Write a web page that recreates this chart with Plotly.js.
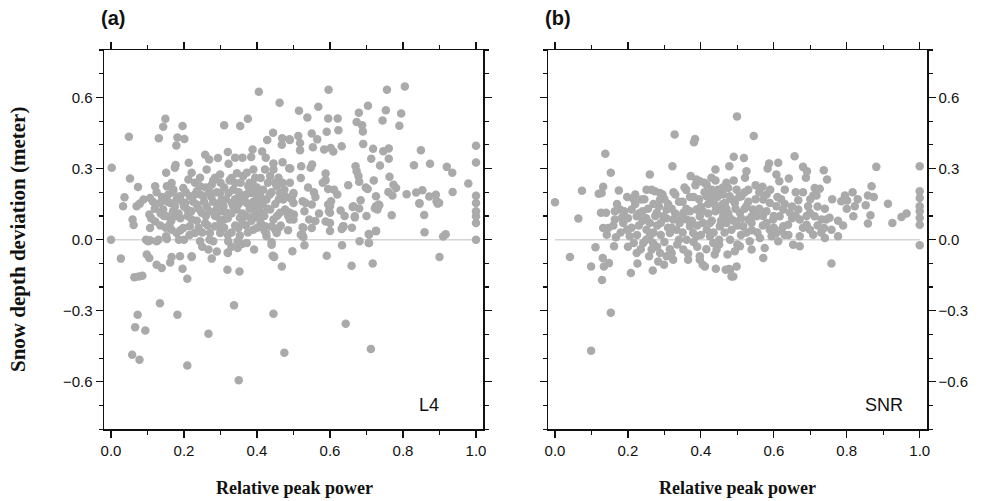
<!DOCTYPE html>
<html>
<head>
<meta charset="utf-8">
<script src="https://cdn.plot.ly/plotly-3.0.1.min.js"></script>
<style>html,body{margin:0;padding:0;background:#fff}#chart{width:987px;height:501px}</style>
</head>
<body>
<div id="chart"></div>
<script>
// Panel (a) L4: relative peak power vs snow depth deviation (m)
const l4X = [
0.405,0.462,0.149,0.143,0.196,0.049,0.131,0.182,0.201,0.179,0.31,0.354,0.375,0.444,0.428,0.469,0.489,0.468,0.002,0.052,
0.074,0.037,0.033,0.059,0.062,0.0,0.121,0.151,0.177,0.175,0.213,0.258,0.269,0.293,0.32,0.322,0.34,0.36,0.388,0.384,
0.414,0.424,0.445,0.47,0.488,
0.596,0.756,0.805,0.515,0.538,0.568,0.595,0.621,0.591,0.623,0.679,0.704,0.673,0.688,0.69,0.753,0.744,0.795,0.79,0.513,
0.518,0.518,0.55,0.565,0.553,0.584,0.602,0.609,0.632,0.691,0.718,0.713,0.746,0.761,0.761,0.737,0.849,0.83,0.874,0.92,
0.935,0.979,1.0,1.0,1.0,1.0,1.0,1.0,1.0,0.49,0.491,0.49,0.499,0.495,0.499,0.521,0.52,0.551,0.547,0.588,
0.588,0.595,0.611,0.556,0.525,0.533,0.55,0.603,0.6,0.597,0.629,0.501,0.543,0.56,0.55,0.525,0.52,0.53,0.588,0.6,
0.6,0.637,0.632,0.633,0.591,0.497,0.67,0.673,0.678,0.68,0.698,0.703,0.662,0.684,0.68,0.668,0.726,0.735,0.73,0.723,
0.763,0.774,0.781,0.76,0.771,0.769,0.726,0.707,0.706,0.681,0.81,0.836,0.853,0.845,0.858,0.859,0.872,0.89,0.899,0.894,
0.936,0.91,0.917,0.9,
0.027,0.096,0.107,0.13,0.153,0.186,0.098,0.105,0.125,0.139,0.162,0.166,0.064,0.076,0.086,0.196,0.209,0.221,0.267,0.276,
0.319,0.352,0.32,0.347,0.359,0.392,0.44,0.443,0.447,0.468,0.527,0.659,0.707,0.717,0.706,0.726,0.134,0.073,0.182,0.066,
0.094,0.337,0.445,0.267,0.643,0.058,0.078,0.475,0.712,0.209,0.35,0.845,0.895,0.892,1.0,0.726,0.733,0.664,0.668,0.634,
0.636,0.6,0.595,0.527,0.524,0.486,0.49,0.45,0.454,0.425,0.422,0.39,0.404,0.413,
0.089,0.107,0.07,0.079,0.105,0.121,0.107,0.125,0.102,0.134,0.143,0.153,0.16,0.136,0.162,0.175,0.166,0.151,0.189,0.198,
0.212,0.203,0.216,0.209,0.221,0.23,0.244,0.216,0.244,0.253,0.262,0.235,0.248,0.258,0.271,0.28,0.289,0.285,0.262,0.285,
0.299,0.276,0.299,0.303,0.308,0.317,0.31,0.299,0.299,0.321,0.322,0.331,0.34,0.335,0.344,0.353,0.349,0.358,0.372,0.376,
0.362,0.372,0.39,0.395,0.386,0.399,0.408,0.399,0.39,0.417,0.426,0.436,0.445,0.44,0.454,0.426,0.44,0.445,0.454,0.463,
0.472,0.463,0.477,0.486,0.436,0.422,0.445,0.459,0.5,0.5,0.49,0.5,0.32,0.372,0.347,0.353,0.221,0.189,0.18,0.198,
0.221,0.244,0.235,0.171,0.157,0.166,0.153,
0.14,0.17,0.19,0.2,0.23,0.24,0.26,0.27,0.28,0.29,0.3,0.31,0.32,0.33,0.33,0.34,0.35,0.36,0.37,0.37,
0.38,0.38,0.39,0.4,0.41,0.41,0.42,0.43,0.44,0.45,0.46,0.47,0.48,0.26,0.22,0.18,0.12,0.11,0.15,0.2,
0.27,0.33,0.29,0.25,
0.115,0.125,0.135,0.145,0.155,0.165,0.17,0.175,0.185,0.19,0.195,0.205,0.21,0.215,0.225,0.23,0.235,0.24,0.245,0.25,
0.255,0.265,0.27,0.275,0.28,0.285,0.29,0.295,0.3,0.305,0.31,0.315,0.32,0.325,0.33,0.335,0.34,0.345,0.35,0.355,
0.36,0.365,0.37,0.375,0.38,0.385,0.39,0.395,0.4,0.405,0.41,0.415,0.42,0.43,0.435,0.45,0.455,0.46,0.465,0.475,
0.48,0.485,0.53,0.54,0.56,0.57,0.58,0.62,0.64,0.65,0.66,0.7,0.72
];
const l4Y = [
0.624,0.577,0.51,0.476,0.479,0.434,0.428,0.431,0.425,0.397,0.483,0.479,0.51,0.451,0.42,0.428,0.423,0.4,0.303,0.258,
0.222,0.179,0.141,0.085,0.062,0.0,0.225,0.282,0.315,0.303,0.324,0.358,0.338,0.344,0.37,0.32,0.346,0.346,0.38,0.349,
0.372,0.346,0.321,0.327,0.301,
0.632,0.632,0.646,0.544,0.515,0.561,0.511,0.511,0.455,0.462,0.535,0.565,0.496,0.483,0.456,0.546,0.503,0.532,0.48,0.437,
0.408,0.377,0.448,0.423,0.39,0.38,0.387,0.372,0.394,0.404,0.383,0.341,0.373,0.385,0.341,0.313,0.377,0.314,0.32,0.307,
0.282,0.237,0.396,0.325,0.185,0.12,0.099,0.07,0.0,0.42,0.3,0.24,0.19,0.17,0.1,0.31,0.26,0.317,0.303,0.279,
0.251,0.214,0.211,0.2,0.162,0.155,0.148,0.162,0.141,0.12,0.123,0.106,0.085,0.079,0.049,0.052,0.021,-0.024,0.077,0.07,
0.037,0.056,0.045,-0.024,-0.068,-0.049,0.31,0.289,0.268,0.244,0.22,0.214,0.138,0.166,0.131,0.094,0.183,0.145,0.127,0.132,
0.265,0.232,0.218,0.201,0.186,0.103,0.035,0.021,-0.014,-0.007,0.192,0.199,0.208,0.154,0.104,0.031,0.182,0.189,0.155,0.158,
0.201,0.013,0.023,-0.073,
-0.08,0.0,-0.003,0.0,0.003,0.0,-0.063,-0.077,-0.106,-0.12,-0.096,-0.073,-0.159,-0.155,-0.152,-0.123,-0.165,-0.073,-0.042,-0.08,
-0.127,-0.134,-0.056,-0.035,-0.018,-0.042,-0.011,-0.068,-0.073,-0.113,0.011,-0.11,-0.014,-0.101,0.024,0.038,-0.268,-0.317,-0.317,-0.369,
-0.383,-0.277,-0.313,-0.397,-0.355,-0.486,-0.507,-0.477,-0.461,-0.531,-0.593,0.152,0.152,0.162,0.155,0.141,0.148,0.141,0.099,0.049,
0.056,0.113,0.148,0.049,0.021,0.106,0.085,0.042,0.028,0.028,0.056,0.099,0.092,0.113,
0.169,0.176,0.141,0.152,0.106,0.077,0.049,-0.007,-0.007,0.155,0.127,0.099,0.063,0.11,0.155,0.099,0.042,0.014,0.183,0.218,
0.254,0.155,0.183,0.127,0.085,0.028,-0.007,0.056,0.225,0.183,0.141,0.148,0.113,0.07,0.028,-0.007,0.099,0.056,0.296,0.261,
0.275,0.232,0.197,0.169,0.141,0.113,0.085,0.056,0.028,-0.007,0.197,0.155,0.239,0.211,0.127,0.092,0.049,0.183,0.155,0.225,
0.268,0.282,0.296,0.261,0.197,0.169,0.141,0.099,0.042,0.211,0.169,0.127,0.085,0.056,0.035,0.014,-0.021,-0.07,0.225,0.197,
0.169,0.113,0.127,0.099,0.268,0.296,0.296,0.261,0.197,0.155,0.113,0.085,-0.054,-0.014,-0.007,0.017,-0.07,-0.07,0.028,0.049,
0.282,0.261,0.204,0.211,0.19,0.239,0.225,
0.18,0.12,0.09,0.14,0.19,0.05,0.1,0.2,0.16,0.13,0.24,0.05,0.09,0.26,0.03,0.17,0.2,0.11,0.06,0.19,
0.13,0.24,0.16,0.22,0.07,0.18,0.1,0.24,0.2,0.15,0.05,0.24,0.18,0.22,0.12,0.17,0.13,0.09,0.05,0.0,
0.0,-0.03,-0.05,-0.03,
0.16,0.2,0.06,0.1,0.16,0.08,0.2,0.14,0.11,0.04,0.16,0.2,0.1,0.02,0.16,0.24,0.08,0.13,0.19,0.03,
0.16,0.06,0.12,0.18,0.25,0.1,0.2,0.15,0.08,0.12,0.22,0.17,0.02,0.25,0.11,0.14,0.06,0.28,0.15,0.24,
0.07,0.17,0.1,0.03,0.2,0.08,0.23,0.13,0.05,0.19,0.26,0.15,0.04,0.13,0.19,0.24,0.1,0.17,0.06,0.21,
0.12,0.04,0.12,0.22,0.18,0.11,0.24,0.19,0.1,0.23,0.05,0.1,0.25
];

// Panel (b) SNR
const snrX = [
0.0,0.041,0.064,0.074,0.099,0.111,0.129,0.138,0.153,0.131,0.134,0.148,0.12,0.132,0.128,0.175,0.126,0.14,0.132,0.146,
0.142,0.162,0.167,0.164,0.178,0.183,0.164,0.198,0.215,0.21,0.224,0.237,0.251,0.26,0.274,0.288,0.288,0.322,0.328,0.381,
0.384,0.372,0.388,0.397,0.416,0.429,0.44,0.478,0.187,0.198,0.205,0.216,0.224,0.208,0.226,0.242,0.251,0.26,0.269,0.265,
0.258,0.268,0.283,0.299,0.288,0.306,0.324,0.32,0.279,0.297,0.306,0.324,0.342,0.333,0.315,0.352,0.361,0.37,0.379,0.388,
0.361,0.352,0.365,0.397,0.405,0.411,0.397,0.388,0.397,0.406,0.416,0.425,0.434,0.443,0.438,0.416,0.434,0.447,0.461,0.475,
0.479,0.466,0.425,0.438,0.452,0.461,0.47,0.484,0.452,0.441,0.468,0.473,0.477,0.484,0.499,0.49,0.099,0.153,
0.545,0.518,0.657,0.587,0.612,0.583,0.68,0.691,0.688,0.737,0.746,0.881,1.0,0.525,0.521,0.607,0.615,0.641,0.569,0.63,
0.712,0.726,0.717,0.708,0.816,0.795,0.785,0.801,0.822,0.818,0.868,0.858,0.874,0.852,0.865,0.858,0.913,0.925,0.95,0.964,
1.0,1.0,1.0,1.0,1.0,1.0,1.0,0.758,0.667,0.694,0.699,0.712,0.731,0.744,0.753,0.776,0.738,0.758,0.74,0.776,
0.667,0.671,0.69,0.699,0.708,0.671,0.671,0.653,0.571,0.589,0.607,0.626,0.644,0.616,0.598,0.58,0.589,0.607,0.626,0.639,
0.612,0.594,0.575,0.562,0.498,0.511,0.525,0.543,0.553,0.539,0.516,0.53,0.507,0.493,0.534,0.507,0.493,0.498,0.48,0.489,
0.539,0.571,
0.22,0.23,0.24,0.25,0.27,0.28,0.29,0.3,0.31,0.32,0.33,0.34,0.35,0.36,0.37,0.38,0.39,0.4,0.41,0.42,
0.43,0.44,0.45,0.46,0.47,0.48,0.49,0.5,0.51,0.52,0.53,0.54,0.55,0.56,0.57,0.58,0.6,0.62,0.63,0.65,
0.66,0.68,0.7,0.72,0.74,0.76,0.79,0.8,0.83,
0.16,0.17,0.18,0.19,0.2,0.2,0.21,0.22,0.225,0.23,0.235,0.24,0.245,0.25,0.255,0.26,0.265,0.27,0.275,0.28,
0.285,0.29,0.295,0.3,0.305,0.31,0.315,0.32,0.325,0.33,0.335,0.34,0.345,0.35,0.355,0.36,0.365,0.37,0.375,0.38,
0.385,0.39,0.395,0.4,0.405,0.41,0.415,0.42,0.425,0.43,0.435,0.44,0.445,0.45,0.455,0.46,0.465,0.47,0.475,0.48,
0.485,0.49,0.495,0.5,0.505,0.51,0.52,0.525,0.53,0.54,0.55,0.555,0.56,0.57,0.58,0.59,0.6,0.61,0.62,0.63,
0.64,0.65,0.66,0.68,0.69,0.72,0.73
];
const snrY = [
0.158,-0.073,0.089,0.206,-0.113,-0.032,-0.17,0.362,0.282,-0.077,-0.113,-0.099,0.194,0.223,0.197,0.207,0.113,0.113,0.049,0.049,
0.021,-0.028,0.01,0.12,0.127,0.092,0.085,0.18,0.172,0.127,0.099,0.169,0.211,0.275,0.204,0.197,0.169,0.31,0.444,0.411,
0.425,0.268,0.254,0.246,0.232,0.261,0.296,0.31,0.07,0.042,0.014,-0.014,-0.056,-0.141,-0.101,-0.014,0.042,0.014,-0.014,-0.042,
-0.07,-0.13,-0.092,-0.106,-0.056,-0.07,-0.085,-0.056,0.113,0.099,0.127,0.085,0.07,0.042,0.028,0.113,0.085,0.056,0.028,0.014,
0.0,-0.042,-0.085,-0.085,-0.106,-0.113,-0.07,0.127,0.099,0.07,0.042,0.014,-0.014,-0.042,-0.063,0.183,0.197,0.211,0.19,0.218,
0.183,0.155,0.169,0.148,0.127,0.099,0.07,0.042,0.056,-0.123,-0.127,-0.063,-0.124,-0.155,0.52,0.35,-0.469,-0.308,
0.437,0.344,0.352,0.321,0.324,0.3,0.307,0.289,0.261,0.293,0.254,0.307,0.31,0.289,0.261,0.275,0.246,0.258,0.223,0.211,
0.218,0.215,0.186,0.186,0.2,0.186,0.162,0.165,0.141,0.099,0.225,0.186,0.18,0.145,0.103,0.068,0.151,0.07,0.096,0.11,
0.204,0.176,0.141,0.12,0.092,0.063,-0.024,-0.101,0.166,0.141,0.113,0.099,0.085,0.085,0.092,0.08,0.049,0.042,0.007,0.014,
0.127,0.085,0.063,0.042,0.021,0.014,-0.028,-0.021,0.169,0.155,0.141,0.127,0.113,0.099,0.085,0.07,0.042,0.028,0.056,0.063,
-0.007,0.014,-0.035,0.007,0.211,0.183,0.141,0.127,0.099,0.07,0.056,0.085,0.113,0.155,-0.007,-0.028,-0.049,-0.113,-0.127,-0.155,
-0.042,-0.077,
0.15,0.06,0.12,0.09,0.15,0.06,0.02,0.17,0.05,0.13,0.19,0.0,0.16,0.21,0.12,0.18,-0.03,0.14,0.2,0.11,
0.08,0.25,0.0,0.22,0.13,0.09,0.25,0.06,0.02,0.2,0.16,0.04,0.23,0.13,0.1,0.19,0.05,0.17,0.02,0.09,
0.2,0.05,0.17,0.06,0.13,0.17,0.06,0.13,0.17,
0.06,0.15,0.03,0.12,0.09,-0.03,0.05,0.19,0.02,0.11,-0.04,0.08,0.17,0.0,0.13,0.07,0.21,0.03,0.1,-0.03,
0.14,0.07,0.19,-0.01,0.09,0.15,-0.04,0.05,0.2,0.11,-0.02,0.16,0.09,0.03,0.22,0.13,-0.06,0.18,0.08,-0.01,
0.23,0.06,0.17,0.02,0.12,0.24,-0.04,0.15,0.07,0.21,0.03,0.12,0.18,-0.02,0.08,0.15,0.03,0.24,0.11,0.0,
0.17,0.08,0.13,-0.02,0.18,0.09,0.13,0.03,0.21,0.1,0.17,0.03,0.2,0.06,0.12,0.21,0.1,0.18,0.04,0.15,
0.02,0.14,0.1,0.2,0.1,0.14,0.03
];

const xTickVals = [0, 0.2, 0.4, 0.6, 0.8, 1.0];
const xTickText = ['0.0', '0.2', '0.4', '0.6', '0.8', '1.0'];
const yTickVals = [-0.6, -0.3, 0, 0.3, 0.6];
const yTickText = ['\u22120.6', '\u22120.3', '0.0', '0.3', '0.6'];
const panelLabels = ['(a)', '(b)'];
const methodLabels = ['L4', 'SNR'];

const W = 987, H = 501;
const markerStyle = {color: '#a9aaa9', size: 8.5, line: {width: 0}};
const tickFont = {family: 'Liberation Sans, Arial, sans-serif', size: 15, color: '#111'};

const traces = [
  {x: l4X, y: l4Y, type: 'scatter', mode: 'markers', marker: markerStyle, xaxis: 'x', yaxis: 'y', hoverinfo: 'skip'},
  {x: snrX, y: snrY, type: 'scatter', mode: 'markers', marker: markerStyle, xaxis: 'x2', yaxis: 'y2', hoverinfo: 'skip'}
];

function xAx(domain, anchor) {
  return {
    domain: domain, anchor: anchor, range: [-0.0192, 1.02], fixedrange: true,
    showgrid: false, zeroline: false, showline: true, linecolor: '#111', linewidth: 1.5,
    mirror: 'allticks', ticks: 'outside', ticklen: 7, tickwidth: 1.2, tickcolor: '#111',
    tickvals: xTickVals, ticktext: xTickText, tickfont: tickFont,
    minor: {dtick: 0.1, tick0: 0, ticks: 'outside', ticklen: 4, tickwidth: 1.2, tickcolor: '#111', showgrid: false}
  };
}
function yAx(anchor, side) {
  return {
    domain: [1 - 429.3 / H, 1 - 50 / H], anchor: anchor, side: side, range: [-0.8, 0.8], fixedrange: true,
    showgrid: false, zeroline: false, showline: true, linecolor: '#111', linewidth: 1.5,
    mirror: 'allticks', ticks: 'outside', ticklen: 7, tickwidth: 1.2, tickcolor: '#111',
    tickvals: yTickVals, ticktext: yTickText, tickfont: tickFont,
    minor: {dtick: 0.1, tick0: 0, ticks: 'outside', ticklen: 4, tickwidth: 1.2, tickcolor: '#111', showgrid: false}
  };
}

const titleFont = {family: 'Liberation Serif, Times New Roman, serif', size: 18, color: '#111'};
const layout = {
  width: W, height: H, margin: {l: 0, r: 0, t: 0, b: 0},
  paper_bgcolor: '#fff', plot_bgcolor: '#fff', showlegend: false,
  xaxis: xAx([104 / W, 483.3 / W], 'y'),
  yaxis: yAx('x', 'left'),
  xaxis2: xAx([548 / W, 927 / W], 'y2'),
  yaxis2: yAx('x2', 'right'),
  shapes: [
    {type: 'line', xref: 'x', yref: 'y', x0: 0, x1: 1, y0: 0, y1: 0, line: {color: '#d4d4d4', width: 1.5}, layer: 'below'},
    {type: 'line', xref: 'x2', yref: 'y2', x0: 0, x1: 1, y0: 0, y1: 0, line: {color: '#d4d4d4', width: 1.5}, layer: 'below'}
  ],
  annotations: [
    {text: '<b>' + panelLabels[0] + '</b>', xref: 'paper', yref: 'paper', x: 99 / W, y: 1 - 18 / H, xanchor: 'left', yanchor: 'middle', showarrow: false, font: {family: 'Liberation Sans, Arial, sans-serif', size: 20, color: '#111'}},
    {text: '<b>' + panelLabels[1] + '</b>', xref: 'paper', yref: 'paper', x: 543 / W, y: 1 - 18 / H, xanchor: 'left', yanchor: 'middle', showarrow: false, font: {family: 'Liberation Sans, Arial, sans-serif', size: 20, color: '#111'}},
    {text: methodLabels[0], xref: 'x', yref: 'y', x: 0.905, y: -0.697, xanchor: 'right', yanchor: 'middle', showarrow: false, font: {family: 'Liberation Sans, Arial, sans-serif', size: 18, color: '#111'}},
    {text: methodLabels[1], xref: 'x2', yref: 'y2', x: 0.96, y: -0.697, xanchor: 'right', yanchor: 'middle', showarrow: false, font: {family: 'Liberation Sans, Arial, sans-serif', size: 18, color: '#111'}},
    {text: '<b>Relative peak power</b>', xref: 'paper', yref: 'paper', x: 294 / W, y: 1 - 488 / H, xanchor: 'center', yanchor: 'middle', showarrow: false, font: titleFont},
    {text: '<b>Relative peak power</b>', xref: 'paper', yref: 'paper', x: 737 / W, y: 1 - 488 / H, xanchor: 'center', yanchor: 'middle', showarrow: false, font: titleFont},
    {text: '<b>Snow depth deviation (meter)</b>', xref: 'paper', yref: 'paper', x: 18 / W, y: 1 - 240 / H, xanchor: 'center', yanchor: 'middle', textangle: -90, showarrow: false, font: {family: 'Liberation Serif, Times New Roman, serif', size: 21, color: '#111'}}
  ]
};

Plotly.newPlot('chart', traces, layout, {displayModeBar: false, staticPlot: true});
</script>
</body>
</html>
